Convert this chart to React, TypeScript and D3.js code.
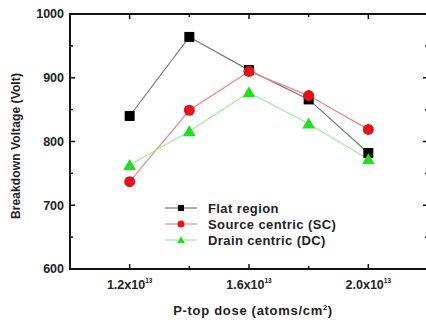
import React, { useEffect, useRef } from "react";
import * as d3 from "d3";

const doses = [1.2, 1.4, 1.6, 1.8, 2.0];
const flatRegion = [840, 964, 912, 866, 782];
const sourceCentric = [737, 849, 910, 872, 819];
const drainCentric = [763, 816, 877, 828, 772];
const xTickLabels = [1.2, 1.6, 2.0];
const yTickLabels = [600, 700, 800, 900, 1000];

const series = [
  { name: "Flat region", values: flatRegion, line: "#777", fill: "#000", shape: "square" },
  { name: "Source centric (SC)", values: sourceCentric, line: "#e88", fill: "#e0141c", shape: "circle" },
  { name: "Drain centric (DC)", values: drainCentric, line: "#9e9", fill: "#22dd22", shape: "triangle" },
];

const W = 426;
const H = 320;
const margin = { top: 14, right: -2, bottom: 51, left: 70 };

const App = () => {
  const svgRef = useRef<SVGSVGElement>(null);

  useEffect(() => {
    const svg = d3.select(svgRef.current);
    svg.selectAll("*").remove();

    const x = d3.scaleLinear().domain([1.0, 2.2]).range([margin.left, W - margin.right]);
    const y = d3.scaleLinear().domain([600, 1000]).range([H - margin.bottom, margin.top]);
    const font = "'Liberation Sans', Arial, sans-serif";

    // frame
    svg
      .append("rect")
      .attr("x", x(1.0))
      .attr("y", y(1000))
      .attr("width", x(2.2) - x(1.0))
      .attr("height", y(600) - y(1000))
      .attr("fill", "none")
      .attr("stroke", "#111")
      .attr("stroke-width", 2);

    // ticks (inward)
    d3.range(1.0, 2.21, 0.2).forEach((v) => {
      const major = xTickLabels.some((t) => Math.abs(t - v) < 1e-6);
      const len = major ? 5 : 3;
      svg.append("line").attr("x1", x(v)).attr("x2", x(v)).attr("y1", y(600)).attr("y2", y(600) - len).attr("stroke", "#111").attr("stroke-width", 1.5);
      svg.append("line").attr("x1", x(v)).attr("x2", x(v)).attr("y1", y(1000)).attr("y2", y(1000) + len).attr("stroke", "#111").attr("stroke-width", 1.5);
    });
    d3.range(600, 1001, 50).forEach((v) => {
      const len = v % 100 === 0 ? 5 : 3;
      svg.append("line").attr("x1", x(1.0)).attr("x2", x(1.0) + len).attr("y1", y(v)).attr("y2", y(v)).attr("stroke", "#111").attr("stroke-width", 1.5);
      svg.append("line").attr("x1", x(2.2)).attr("x2", x(2.2) - len).attr("y1", y(v)).attr("y2", y(v)).attr("stroke", "#111").attr("stroke-width", 1.5);
    });

    // y tick labels
    svg
      .selectAll(".ylab")
      .data(yTickLabels)
      .enter()
      .append("text")
      .attr("x", x(1.0) - 6)
      .attr("y", (d) => y(d))
      .attr("dy", "0.35em")
      .attr("text-anchor", "end")
      .attr("font-family", font)
      .attr("font-weight", "bold")
      .attr("font-size", 12.5)
      .attr("fill", "#222")
      .text((d) => d);

    // x tick labels
    xTickLabels.forEach((v) => {
      const t = svg
        .append("text")
        .attr("x", x(v))
        .attr("y", y(600) + 20)
        .attr("text-anchor", "middle")
        .attr("font-family", font)
        .attr("font-weight", "bold")
        .attr("font-size", 12.5)
        .attr("fill", "#222");
      t.append("tspan").text(`${v.toFixed(1)}x10`);
      t.append("tspan").attr("dy", -6).attr("font-size", 6.5).text("13");
    });

    // axis titles
    const xt = svg
      .append("text")
      .attr("x", 253)
      .attr("y", 315)
      .attr("text-anchor", "middle")
      .attr("font-family", font)
      .attr("font-weight", "bold")
      .attr("font-size", 13)
      .attr("letter-spacing", 0.7)
      .attr("fill", "#222");
    xt.append("tspan").text("P-top dose (atoms/cm");
    xt.append("tspan").attr("dy", -5).attr("font-size", 7.5).text("2");
    xt.append("tspan").attr("dy", 5).text(")");

    svg
      .append("text")
      .attr("transform", `translate(20,146) rotate(-90)`)
      .attr("text-anchor", "middle")
      .attr("font-family", font)
      .attr("font-weight", "bold")
      .attr("font-size", 12)
      .attr("letter-spacing", 0.1)
      .attr("fill", "#222")
      .text("Breakdown Voltage (Volt)");

    const drawMarker = (g: any, shape: string, cx: number, cy: number, size: number, fill: string) => {
      if (shape === "square") {
        g.append("rect").attr("x", cx - size / 2).attr("y", cy - size / 2).attr("width", size).attr("height", size).attr("fill", fill);
      } else if (shape === "circle") {
        g.append("circle").attr("cx", cx).attr("cy", cy).attr("r", size / 2 + 0.5).attr("fill", fill);
      } else {
        const s = size * 1.1;
        g.append("path")
          .attr("d", `M${cx},${cy - s * 0.55}L${cx + s * 0.58},${cy + s * 0.45}L${cx - s * 0.58},${cy + s * 0.45}Z`)
          .attr("fill", fill);
      }
    };

    const line = d3
      .line<number>()
      .x((_, i) => x(doses[i]))
      .y((d) => y(d));

    series.forEach((s) => {
      svg.append("path").attr("d", line(s.values)).attr("fill", "none").attr("stroke", s.line).attr("stroke-width", 1.2);
    });
    series.forEach((s) => {
      const g = svg.append("g");
      s.values.forEach((v, i) => drawMarker(g, s.shape, x(doses[i]), y(v), 10, s.fill));
    });

    // legend
    series.forEach((s, i) => {
      const ly = 208 + i * 16;
      svg.append("line").attr("x1", 165).attr("x2", 197).attr("y1", ly).attr("y2", ly).attr("stroke", s.line).attr("stroke-width", 1.2);
      drawMarker(svg.append("g"), s.shape, 181, ly, 6, s.fill);
      svg
        .append("text")
        .attr("x", 208)
        .attr("y", ly)
        .attr("dy", "0.35em")
        .attr("font-family", font)
        .attr("font-weight", "bold")
        .attr("font-size", 13)
        .attr("letter-spacing", 0.4)
        .attr("fill", "#222")
        .text(s.name);
    });
  }, []);

  return (
    <svg
      ref={svgRef}
      width={W}
      height={H}
      style={{ position: "absolute", left: 0, top: 0, background: "#fff" }}
    />
  );
};

export default App;
